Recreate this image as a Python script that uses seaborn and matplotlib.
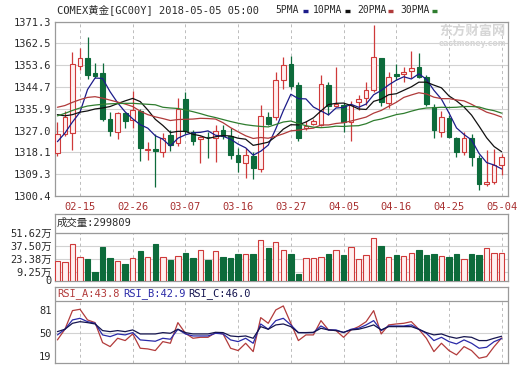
import numpy as np
import pandas as pd
import seaborn as sns
import matplotlib.pyplot as plt
from matplotlib.lines import Line2D

# COMEX gold GC00Y, daily bars 2018-02-12 .. 2018-05-04
dates = pd.bdate_range('2018-02-12', '2018-05-04')

opens = [1317.8, 1325.5, 1326.0, 1353.4, 1356.7, 1350.3, 1350.3, 1331.7, 1326.5, 1334.3,
         1331.2, 1335.0, 1319.3, 1319.4, 1318.4, 1325.2, 1321.8, 1339.8, 1326.5, 1323.6,
         1324.6, 1324.1, 1327.2, 1324.9, 1317.1, 1313.7, 1316.8, 1311.4, 1332.6, 1332.6,
         1347.6, 1353.9, 1345.5, 1328.0, 1329.7, 1329.3, 1345.5, 1337.1, 1337.4, 1330.3,
         1338.5, 1340.4, 1343.5, 1356.4, 1338.1, 1350.0, 1349.9, 1351.2, 1353.0, 1348.9,
         1336.7, 1326.5, 1332.2, 1324.1, 1318.4, 1324.1, 1316.0, 1305.3, 1306.0, 1313.2]
highs = [1330.4, 1334.8, 1359.1, 1360.5, 1365.2, 1354.3, 1354.3, 1334.7, 1334.7, 1334.6,
         1343.1, 1335.8, 1322.5, 1325.6, 1325.9, 1327.3, 1340.4, 1342.6, 1327.2, 1325.0,
         1326.5, 1329.3, 1329.3, 1327.9, 1319.8, 1319.8, 1318.4, 1337.4, 1334.7, 1350.7,
         1357.1, 1357.5, 1346.9, 1330.9, 1331.7, 1349.6, 1346.9, 1353.0, 1338.1, 1339.0,
         1341.5, 1346.9, 1369.9, 1356.7, 1350.7, 1353.9, 1353.0, 1359.4, 1358.4, 1349.6,
         1337.7, 1335.0, 1333.3, 1324.5, 1326.5, 1325.8, 1317.1, 1319.0, 1319.4, 1317.4]
lows = [1316.8, 1324.8, 1319.1, 1351.6, 1347.8, 1348.2, 1330.9, 1324.9, 1323.6, 1327.9,
        1328.2, 1314.8, 1315.1, 1304.2, 1316.4, 1318.8, 1320.9, 1325.5, 1321.1, 1313.7,
        1315.7, 1314.3, 1323.6, 1315.4, 1310.0, 1307.9, 1307.3, 1310.0, 1329.3, 1331.5,
        1343.9, 1343.9, 1322.9, 1327.2, 1329.3, 1329.0, 1333.3, 1336.8, 1326.5, 1322.8,
        1335.4, 1337.5, 1342.6, 1337.1, 1336.3, 1347.6, 1346.9, 1348.2, 1348.2, 1337.1,
        1324.1, 1324.5, 1324.1, 1316.4, 1317.1, 1312.4, 1302.8, 1304.6, 1305.4, 1308.9]
closes = [1325.6, 1332.7, 1353.9, 1356.7, 1349.6, 1349.2, 1331.7, 1326.8, 1334.3, 1330.9,
          1335.4, 1319.8, 1319.7, 1318.8, 1323.9, 1321.1, 1335.8, 1327.0, 1322.9, 1324.5,
          1324.2, 1326.8, 1324.9, 1317.1, 1314.3, 1317.1, 1311.6, 1332.9, 1329.5, 1347.6,
          1353.7, 1345.3, 1324.1, 1329.0, 1330.9, 1345.8, 1337.1, 1338.0, 1330.3, 1337.4,
          1339.8, 1343.5, 1357.1, 1338.5, 1348.9, 1349.4, 1350.7, 1352.6, 1348.9, 1337.7,
          1327.2, 1332.6, 1324.5, 1318.4, 1324.1, 1316.4, 1305.1, 1306.0, 1313.2, 1316.2]

ma5 = [1322.5, 1326.0, 1330.5, 1334.5, 1343.7, 1348.4, 1348.2, 1342.8, 1338.3, 1334.6,
       1331.8, 1329.4, 1328.0, 1324.9, 1323.5, 1320.7, 1323.9, 1325.3, 1326.1, 1326.3,
       1326.9, 1325.1, 1324.7, 1323.5, 1321.5, 1320.0, 1317.0, 1318.6, 1321.1, 1327.7,
       1335.1, 1341.8, 1340.0, 1339.9, 1336.6, 1335.0, 1333.4, 1336.2, 1336.4, 1337.7,
       1336.5, 1337.8, 1341.6, 1343.3, 1345.6, 1347.5, 1348.9, 1348.0, 1350.1, 1347.9,
       1343.4, 1339.8, 1334.2, 1328.1, 1325.4, 1323.2, 1317.7, 1314.0, 1313.0, 1311.4]
ma10 = [1333.5, 1333.0, 1333.5, 1334.5, 1335.0, 1335.8, 1336.2, 1336.8, 1338.0, 1339.1,
        1340.1, 1338.8, 1335.4, 1331.6, 1329.1, 1326.2, 1326.7, 1326.7, 1325.5, 1324.9,
        1323.8, 1324.5, 1325.0, 1324.8, 1323.9, 1323.5, 1321.0, 1321.6, 1322.3, 1324.6,
        1327.6, 1329.4, 1329.3, 1330.5, 1332.2, 1335.0, 1337.6, 1338.1, 1338.2, 1337.2,
        1335.8, 1335.6, 1338.9, 1339.8, 1341.6, 1342.0, 1343.4, 1344.8, 1346.7, 1346.7,
        1345.5, 1344.4, 1341.1, 1339.1, 1336.6, 1333.3, 1328.8, 1324.1, 1320.5, 1318.4]
ma20 = [1336.5, 1337.2, 1338.5, 1339.6, 1340.5, 1340.8, 1340.2, 1339.4, 1338.6, 1337.8,
        1336.8, 1334.9, 1333.5, 1332.6, 1331.9, 1331.1, 1331.5, 1331.6, 1331.7, 1332.0,
        1331.9, 1331.7, 1330.2, 1328.2, 1326.5, 1324.9, 1323.8, 1324.2, 1323.9, 1324.7,
        1325.7, 1326.9, 1327.2, 1327.7, 1328.0, 1329.3, 1329.3, 1329.9, 1330.2, 1330.9,
        1331.7, 1332.5, 1334.1, 1335.2, 1336.9, 1338.5, 1340.5, 1341.5, 1342.4, 1341.9,
        1340.6, 1340.0, 1340.0, 1339.5, 1339.1, 1337.7, 1336.1, 1334.5, 1333.6, 1332.5]
ma30 = [1333.0, 1334.0, 1335.2, 1336.2, 1337.0, 1337.4, 1337.7, 1337.9, 1338.0, 1338.1,
        1338.1, 1337.9, 1337.7, 1337.5, 1336.5, 1336.2, 1336.0, 1335.4, 1334.7, 1333.9,
        1333.0, 1332.3, 1331.5, 1330.7, 1330.0, 1329.4, 1329.0, 1328.7, 1328.5, 1329.5,
        1330.5, 1330.9, 1329.9, 1329.0, 1328.4, 1328.2, 1328.4, 1328.8, 1328.7, 1328.9,
        1329.0, 1329.8, 1331.1, 1331.7, 1332.6, 1333.5, 1334.0, 1334.9, 1335.7, 1336.2,
        1336.3, 1336.5, 1336.4, 1336.5, 1336.8, 1336.8, 1336.6, 1335.7, 1335.1, 1334.1]

# volume, in 万 (10k contracts)
volume = [20.7, 19.9, 39.0, 25.3, 23.4, 9.6, 36.3, 24.5, 21.1, 18.0,
          24.5, 31.4, 25.7, 39.4, 25.3, 22.2, 26.8, 30.2, 24.5, 33.3,
          22.2, 32.1, 25.7, 24.5, 28.3, 28.7, 28.3, 43.6, 35.2, 42.1,
          33.3, 29.1, 7.3, 24.5, 24.5, 25.7, 28.3, 33.3, 27.2, 36.0,
          23.0, 27.9, 45.9, 37.1, 25.7, 27.2, 26.8, 29.9, 32.5, 27.6,
          28.3, 26.8, 25.7, 29.1, 23.4, 29.1, 27.2, 34.8, 30.2, 29.9809]

rsi_a = [41.1, 55.4, 80.4, 82.2, 67.9, 64.3, 37.5, 32.1, 43.3, 40.2,
         49.1, 29.9, 29.0, 26.8, 38.8, 36.6, 64.3, 50.0, 43.3, 44.6,
         44.6, 50.9, 49.1, 29.9, 26.8, 36.6, 25.4, 71.0, 63.4, 81.3,
         86.7, 63.4, 40.2, 47.8, 47.8, 67.0, 54.5, 53.6, 44.6, 54.5,
         58.9, 65.6, 80.4, 49.1, 61.2, 62.5, 63.4, 65.6, 55.4, 43.3,
         25.4, 36.6, 26.8, 21.0, 32.1, 26.8, 16.5, 18.7, 32.1, 43.8]
rsi_b = [47.8, 55.4, 67.9, 70.1, 65.6, 63.4, 47.8, 45.5, 49.1, 47.8,
         50.9, 41.1, 40.2, 39.3, 43.3, 42.0, 55.4, 49.1, 46.4, 46.4,
         46.4, 50.0, 49.1, 41.1, 38.8, 43.3, 36.6, 62.5, 55.4, 67.0,
         70.1, 61.2, 50.9, 50.9, 50.9, 59.8, 54.5, 54.5, 50.9, 55.4,
         56.7, 61.2, 67.0, 53.6, 59.8, 59.8, 59.8, 61.2, 55.4, 50.0,
         40.2, 44.6, 38.8, 35.7, 41.1, 36.6, 29.9, 31.2, 38.8, 42.9]
rsi_c = [52.2, 55.4, 63.4, 65.6, 64.3, 62.5, 53.6, 52.2, 53.6, 52.2,
         54.5, 49.1, 49.1, 49.1, 50.9, 50.0, 55.4, 50.9, 49.1, 49.1,
         49.1, 51.3, 50.9, 46.4, 45.5, 46.4, 43.3, 58.9, 55.4, 61.2,
         62.5, 58.9, 50.9, 50.9, 51.3, 56.7, 54.5, 53.6, 51.3, 54.5,
         55.4, 58.0, 61.2, 54.5, 58.9, 58.9, 58.9, 58.9, 55.4, 50.9,
         47.8, 49.1, 45.5, 43.3, 45.5, 44.6, 40.2, 40.2, 43.3, 46.0]

price_ticks = [1300.4, 1309.3, 1318.1, 1327.0, 1335.9, 1344.7, 1353.6, 1362.5, 1371.3]
vol_ticks = [0, 9.25, 23.38, 37.50, 51.62]
vol_labels = ['0', '9.25万', '23.38万', '37.50万', '51.62万']
rsi_ticks = [19, 50, 81]
date_labels = ['02-15', '02-26', '03-07', '03-16', '03-27', '04-05', '04-16', '04-25', '05-04']

RED = '#cf3a3a'
RED_FILL = '#fff0f0'
GREEN = '#0d6b3b'
BORDER = '#9a9a9a'
GRID = '#d2d2d2'
TEXT = '#2a2a2a'
MA_COLORS = {'5PMA': '#1c1c8a', '10PMA': '#111111', '20PMA': '#b03a3a', '30PMA': '#2f7d2f'}
RSI_COLORS = {'RSI_A': '#b23b3b', 'RSI_B': '#2a2aa8', 'RSI_C': '#15154f'}

sns.set_style('white')
plt.rcParams['font.family'] = ['DejaVu Sans Mono', 'Noto Sans CJK SC']

W, H = 520, 365
def fx(px): return px / W
def fy(py): return 1 - py / H

df = pd.DataFrame({'date': dates, 'open': opens, 'high': highs, 'low': lows,
                   'close': closes, 'volume': volume})
df['x'] = np.arange(len(df))
df['up'] = df['close'] >= df['open']
tick_x = df.loc[df['date'].dt.strftime('%m-%d').isin(date_labels), 'x'].tolist()

fig = plt.figure(figsize=(W / 100, H / 100), dpi=100)
ax_k = fig.add_axes([fx(55), fy(196), (508.3 - 55) / W, (196 - 21.7) / H])
ax_v = fig.add_axes([fx(55), fy(280.5), (508.3 - 55) / W, (280.5 - 214) / H])
ax_r = fig.add_axes([fx(55), fy(363.3), (508.3 - 55) / W, (363.3 - 287.3) / H])

# candles
edge = np.where(df['up'], RED, GREEN)
ax_k.vlines(df['x'], df['low'], df['high'], colors=edge, lw=0.9, zorder=2)
body = (df['close'] - df['open']).abs().clip(lower=0.35)
ax_k.bar(df['x'], body, bottom=df[['open', 'close']].min(axis=1), width=0.62,
         color=np.where(df['up'], RED_FILL, GREEN), edgecolor=edge, lw=0.8, zorder=3)

ma = pd.DataFrame({'x': df['x'], '5PMA': ma5, '10PMA': ma10, '20PMA': ma20, '30PMA': ma30})
ma = ma.melt('x', var_name='line', value_name='price')
sns.lineplot(data=ma, x='x', y='price', hue='line', palette=MA_COLORS, lw=0.9,
             ax=ax_k, legend=False, zorder=4)

ax_k.set_ylim(price_ticks[0], price_ticks[-1])
ax_k.set_yticks(price_ticks)
ax_k.set_yticklabels([f'{t:.1f}' for t in price_ticks])
ax_k.grid(axis='y', color=GRID, lw=0.8)
ax_k.vlines(tick_x, price_ticks[0], price_ticks[-1], colors='#bcbcbc',
            linestyles=(0, (3, 3)), lw=0.7, zorder=1)
ax_k.set_xticks(tick_x)
ax_k.set_xticklabels(date_labels, color='#a83030')

# volume
ax_v.bar(df['x'], df['volume'], width=0.72, color=np.where(df['up'], RED_FILL, GREEN),
         edgecolor=np.where(df['up'], RED, GREEN), lw=0.8, zorder=3)
ax_v.set_ylim(0, 71.8)
ax_v.set_yticks(vol_ticks)
ax_v.set_yticklabels(vol_labels)
ax_v.grid(axis='y', color=GRID, lw=0.8)
ax_v.axhline(vol_ticks[-1], color=BORDER, lw=0.9, zorder=2)
ax_v.vlines(tick_x, 0, vol_ticks[-1], colors='#bcbcbc', linestyles=(0, (3, 3)), lw=0.7, zorder=1)
ax_v.set_xticks([])

# RSI
rsi = pd.DataFrame({'x': df['x'], 'RSI_A': rsi_a, 'RSI_B': rsi_b, 'RSI_C': rsi_c})
rsi = rsi.melt('x', var_name='line', value_name='rsi')
sns.lineplot(data=rsi, x='x', y='rsi', hue='line', palette=RSI_COLORS, lw=0.9,
             ax=ax_r, legend=False, zorder=4)
ax_r.set_ylim(9.7, 111.7)
ax_r.set_yticks(rsi_ticks)
ax_r.axhline(50, color=GRID, lw=0.8, zorder=1)
ax_r.axhline(93.8, color=BORDER, lw=0.9, zorder=2)
ax_r.vlines(tick_x, 9.7, 93.8, colors='#bcbcbc', linestyles=(0, (3, 3)), lw=0.7, zorder=1)
ax_r.set_xticks([])

for ax in (ax_k, ax_v, ax_r):
  ax.set_xlim(-0.32, len(df) - 0.12)
  ax.set_xlabel('')
  ax.set_ylabel('')
  ax.set_axisbelow(True)
  ax.tick_params(length=0, labelsize=7.5, colors=TEXT, pad=2.5)
  for s in ax.spines.values():
    s.set_visible(True)
    s.set_color(BORDER)
    s.set_linewidth(0.9)
ax_k.tick_params(axis='x', pad=4, labelcolor='#a83030')

# header and legend
fig.text(fx(57), fy(10), 'COMEX黄金[GC00Y] 2018-05-05 05:00', va='center', size=7.5, color=TEXT)
legend_pos = [(275, 303), (313, 345), (357, 388), (400, 432)]
for (name, color), (tx, lx) in zip(MA_COLORS.items(), legend_pos):
  fig.text(fx(tx), fy(10), name, va='center', size=7, color=TEXT)
  fig.add_artist(Line2D([fx(lx), fx(lx + 5)], [fy(11), fy(11)], color=color, lw=2.4,
                        solid_capstyle='butt'))

# watermark
fig.text(fx(472), fy(31), '东方财富网', ha='center', va='center', size=9.5,
         color='#d6d6d6', weight='bold', family=['Noto Sans CJK SC'])
fig.text(fx(472), fy(43.5), 'eastmoney.com', ha='center', va='center', size=5.5,
         color='#d6d6d6', weight='bold', family=['DejaVu Sans'])

fig.text(fx(57), fy(223), f'成交量:{round(volume[-1] * 1e4)}', va='center', size=7.5, color=TEXT)

rsi_title_x = [57, 123, 188]
for (name, color), tx, vals in zip(RSI_COLORS.items(), rsi_title_x, (rsi_a, rsi_b, rsi_c)):
  fig.text(fx(tx), fy(294), f'{name}:{vals[-1]:.1f}', va='center', size=7.5, color=color)

fig.savefig('out.png', dpi=100, facecolor='white')
